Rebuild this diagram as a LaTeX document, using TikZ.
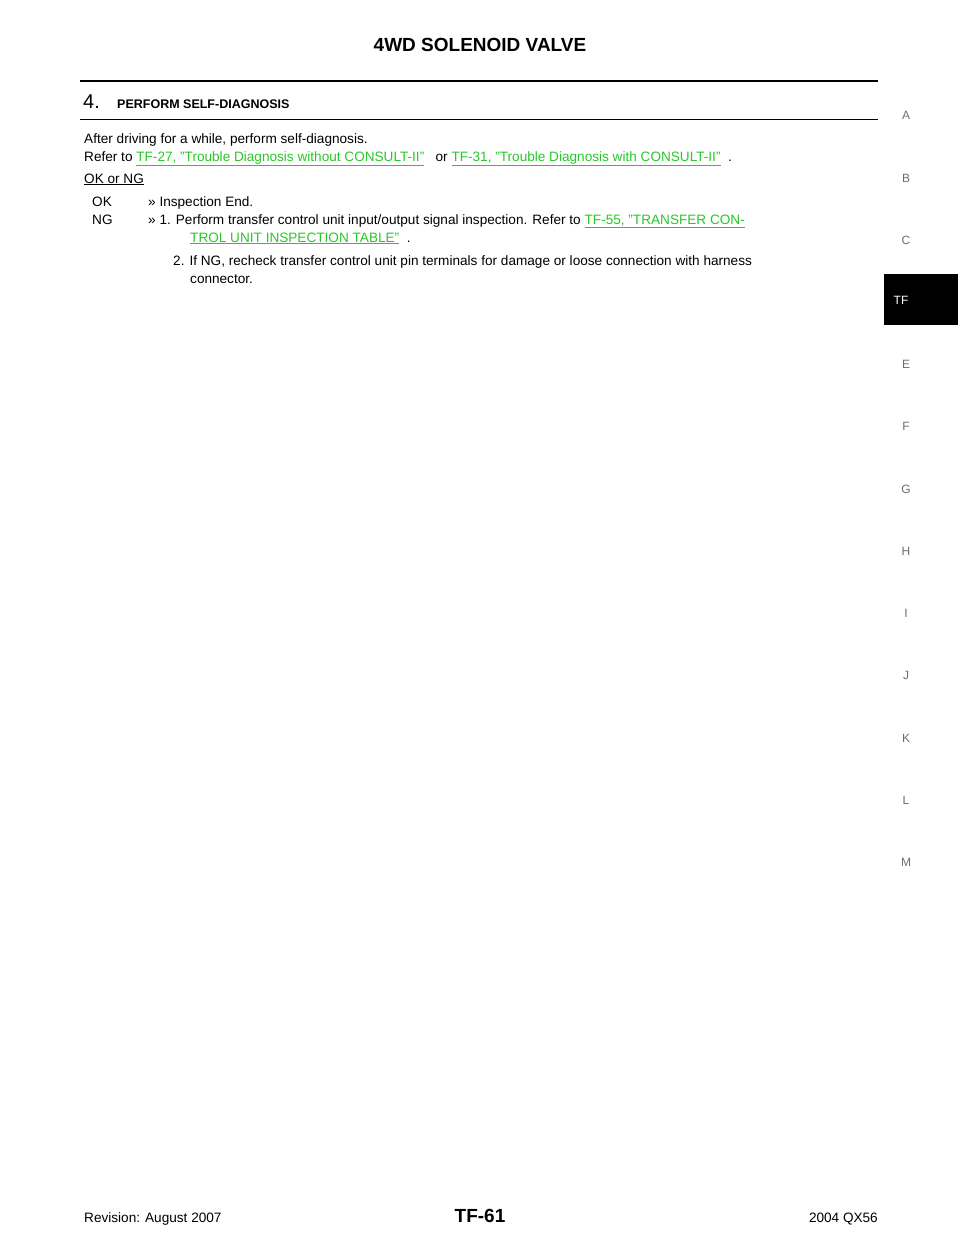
\documentclass[tikz,border=0pt]{standalone}
\usepackage{fontspec}
\setmainfont{Liberation Sans}
\definecolor{lnk}{RGB}{40,200,40}
\definecolor{tabg}{RGB}{110,110,110}
\begin{document}
\begin{tikzpicture}[x=1pt,y=-1pt,
  txt/.style={anchor=base west,inner sep=0pt,font=\fontsize{13.6}{16}\selectfont},
  tab/.style={anchor=base,inner sep=0pt,text=tabg,font=\fontsize{12}{14}\selectfont},
  lk/.style={text=lnk}]
\useasboundingbox[fill=white] (0,0) rectangle (960,1242);
\node[anchor=base,inner sep=0pt,font=\bfseries\fontsize{19}{22}\selectfont] (title) at (480,51) {4WD SOLENOID VALVE};
\draw[line width=2pt] (80,81) -- (878,81);
\node[anchor=base west,inner sep=0pt,font=\fontsize{20}{22}\selectfont] (num) at (83,108) {4.};
\node[anchor=base west,inner sep=0pt,font=\bfseries\fontsize{12.5}{14}\selectfont] (head) at (117,108) {PERFORM SELF-DIAGNOSIS};
\draw[line width=0.8pt] (80,119) -- (878,119);
\node[txt] (l1) at (84,143) {After driving for a while, perform self-diagnosis.};
\node[txt] (l2) at (84,161) {Refer to \textcolor{lnk}{\underline{TF-27, "Trouble Diagnosis without CONSULT-II"}}\ \ \ or \textcolor{lnk}{\underline{TF-31, "Trouble Diagnosis with CONSULT-II"}}\ \ .};
\node[txt] (l3) at (84,183) {\underline{OK or NG}};
\node[txt] (ok) at (92,206) {OK};
\node[txt] (ok2) at (148,206) {>> Inspection End.};
\node[txt] (ng) at (92,224) {NG};
\node[txt] (ng2) at (148,224) {>> 1. Perform transfer control unit input/output signal inspection. Refer to \textcolor{lnk}{\underline{TF-55, "TRANSFER CON-}}};
\node[txt] (ng3) at (190,242) {\textcolor{lnk}{\underline{TROL UNIT INSPECTION TABLE"}}\ \ .};
\node[txt] (ng4) at (173,265) {2. If NG, recheck transfer control unit pin terminals for damage or loose connection with harness};
\node[txt] (ng5) at (190,283) {connector.};
\foreach \l/\y in {A/119,B/182,C/244,E/368,F/430,G/493,H/555,I/617,J/679,K/742,L/804,M/866}
  \node[tab] (t\l) at (906,\y) {\l};
\fill[black] (884,274) rectangle (958,325);
\node[tab,text=white] (tTF) at (901,304) {TF};
\node[txt] (rev) at (84,1222) {Revision: August 2007};
\node[anchor=base,inner sep=0pt,font=\bfseries\fontsize{19}{22}\selectfont] (pg) at (480,1222) {TF-61};
\node[txt,anchor=base east] (mdl) at (878,1222) {2004 QX56};
\end{tikzpicture}
\end{document}
